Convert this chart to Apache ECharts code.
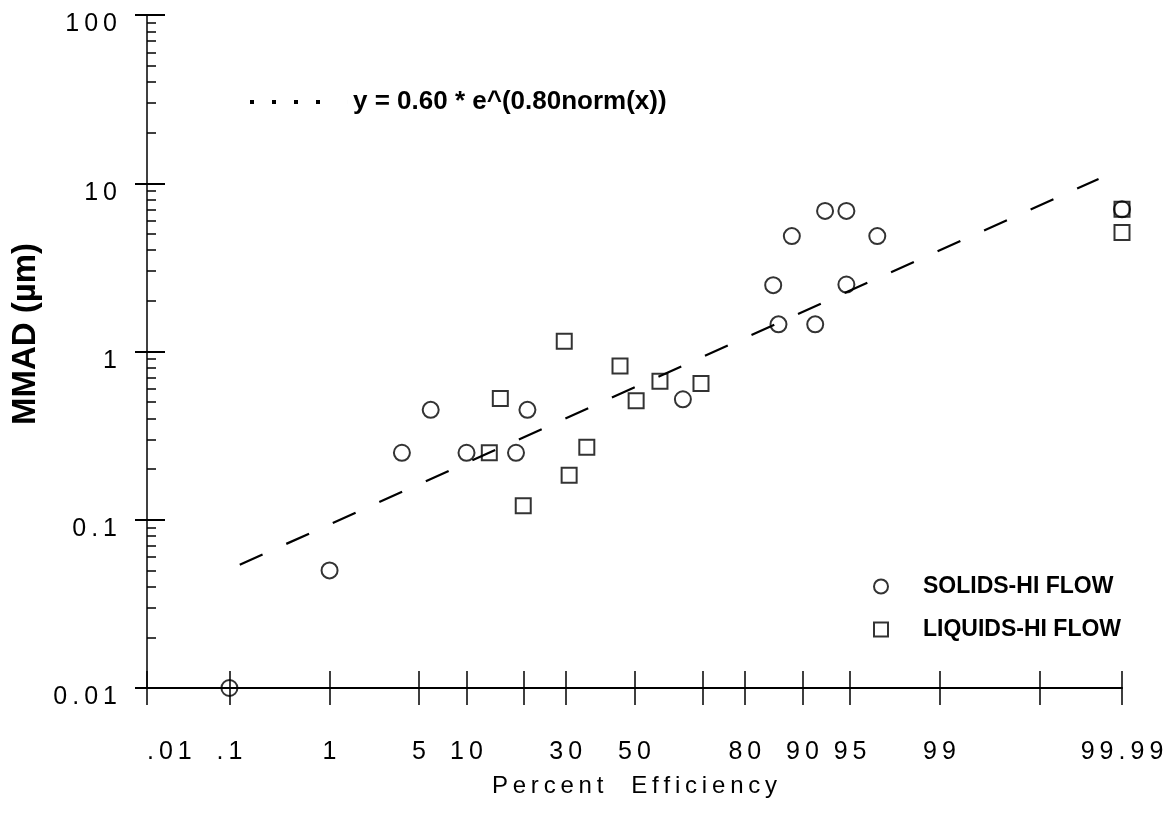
<!DOCTYPE html>
<html>
<head>
<meta charset="utf-8">
<script src="https://cdn.jsdelivr.net/npm/echarts@6/dist/echarts.min.js"></script>
<style>
html,body{margin:0;padding:0;background:#fff;}
#chart{width:1176px;height:835px;}
</style>
</head>
<body>
<div id="chart"></div>
<script>
// ---- data (percent efficiency, MMAD in micrometres) ----
const solidsName = 'SOLIDS-HI FLOW';
const solidsPct  = [0.1, 1.0, 3.8, 6.0, 10.0, 18.3, 20.7, 64.4, 85.5, 86.4, 88.5, 91.6, 92.7, 94.7, 94.7, 96.8, 99.99];
const solidsMMAD = [0.01, 0.05, 0.25, 0.45, 0.25, 0.25, 0.45, 0.52, 2.48, 1.45, 4.85, 1.45, 6.85, 6.85, 2.5, 4.85, 7.0];

const liquidsName = 'LIQUIDS-HI FLOW';
const liquidsPct  = [13.4, 15.3, 19.8, 29.6, 30.9, 35.8, 45.6, 50.5, 57.7, 69.4, 99.99, 99.99];
const liquidsMMAD = [0.25, 0.525, 0.121, 1.15, 0.184, 0.27, 0.82, 0.51, 0.665, 0.645, 7.0, 5.1];

const fitName = 'y = 0.60 * e^(0.80norm(x))';
const fitPct  = [0.13, 99.98];
const fitMMAD = [0.054, 10.6];

// ---- axis ticks / labels ----
const xTickValues  = [0.01, 0.1, 1, 5, 10, 20, 30, 50, 70, 80, 90, 95, 99, 99.9, 99.99];
const xLabelValues = [0.01, 0.1, 1, 5, 10, 30, 50, 80, 90, 95, 99, 99.99];
const xTickLabels  = ['.01', '.1', '1', '5', '10', '30', '50', '80', '90', '95', '99', '99.99'];
const yMajorValues = [0.01, 0.1, 1, 10, 100];
const yTickLabels  = ['0.01', '0.1', '1', '10', '100'];
const yMinorMantissas = [2, 3, 4, 5, 6, 7, 8, 9];
const xAxisName = 'Percent  Efficiency';
const yAxisName = 'MMAD (\u00B5m)';

// ---- normal probability scale (inverse normal CDF) ----
function probit(p) {
  const a = [-3.969683028665376e+01, 2.209460984245205e+02, -2.759285104469687e+02, 1.383577518672690e+02, -3.066479806614716e+01, 2.506628277459239e+00];
  const b = [-5.447609879822406e+01, 1.615858368580409e+02, -1.556989798598866e+02, 6.680131188771972e+01, -1.328068155288572e+01];
  const c = [-7.784894002430293e-03, -3.223964580411365e-01, -2.400758277161838e+00, -2.549732539343734e+00, 4.374664141464968e+00, 2.938163982698783e+00];
  const d = [7.784695709041462e-03, 3.224671290700398e-01, 2.445134137142996e+00, 3.754408661907416e+00];
  const pl = 0.02425, ph = 1 - pl;
  let q, r;
  if (p < pl) {
    q = Math.sqrt(-2 * Math.log(p));
    return (((((c[0]*q+c[1])*q+c[2])*q+c[3])*q+c[4])*q+c[5]) / ((((d[0]*q+d[1])*q+d[2])*q+d[3])*q+1);
  }
  if (p <= ph) {
    q = p - 0.5; r = q * q;
    return (((((a[0]*r+a[1])*r+a[2])*r+a[3])*r+a[4])*r+a[5])*q / (((((b[0]*r+b[1])*r+b[2])*r+b[3])*r+b[4])*r+1);
  }
  q = Math.sqrt(-2 * Math.log(1 - p));
  return -(((((c[0]*q+c[1])*q+c[2])*q+c[3])*q+c[4])*q+c[5]) / ((((d[0]*q+d[1])*q+d[2])*q+d[3])*q+1);
}
const z = pct => probit(pct / 100);

const spaced = (s, gap) => s.split('').join(gap);
const FONT = '"Liberation Sans", Arial, Helvetica, sans-serif';

const xMin = z(0.01), xMax = z(99.99);
const yMinorValues = [];
[0.01, 0.1, 1, 10].forEach(dec => yMinorMantissas.forEach(m => yMinorValues.push(+(dec * m).toPrecision(3))));

function fmtX(v) {
  for (let i = 0; i < xLabelValues.length; i++) {
    if (Math.abs(z(xLabelValues[i]) - v) < 1e-6) return spaced(xTickLabels[i], '\u2009');
  }
  return '';
}
function fmtY(v) {
  const i = Math.round(Math.log10(v)) + 2;
  return spaced(yTickLabels[i] || '', '\u2009');
}

const dotsIcon = 'path://M0,0h4v4h-4z M22,0h4v4h-4z M44,0h4v4h-4z M66,0h4v4h-4z M97.99,0h0.01v4h-0.01z';

const chart = echarts.init(document.getElementById('chart'), null, {renderer: 'canvas'});
const option = {
  backgroundColor: '#ffffff',
  animation: false,
  textStyle: {fontFamily: FONT, color: '#000'},
  grid: {left: 147, right: 54, top: 15, bottom: 147, containLabel: false},
  legend: [
    {
      data: [{name: fitName, icon: dotsIcon}],
      left: 250, top: 89, padding: 0,
      itemWidth: 98, itemHeight: 4,
      itemStyle: {color: '#000', borderWidth: 0},
      textStyle: {fontFamily: FONT, fontSize: 26, fontWeight: 'bold', color: '#000'},
      selectedMode: false
    },
    {
      data: [solidsName, liquidsName],
      orient: 'vertical',
      left: 873, top: 575, padding: 0,
      itemWidth: 14, itemHeight: 14, itemGap: 20,
      itemStyle: {color: 'rgba(255,255,255,0)', borderColor: '#000', borderWidth: 2},
      textStyle: {fontFamily: FONT, fontSize: 23, fontWeight: 'bold', color: '#000', padding: [0, 0, 0, 30]},
      selectedMode: false
    }
  ],
  xAxis: [
    {
      type: 'value', min: xMin, max: xMax, position: 'bottom',
      axisLine: {show: true, onZero: false, lineStyle: {color: '#000', width: 2}},
      axisTick: {show: true, inside: false, length: 17, customValues: xTickValues.map(z), lineStyle: {color: '#000', width: 1.5}},
      axisLabel: {show: true, customValues: xLabelValues.map(z), formatter: fmtX, margin: 52, fontSize: 25, color: '#000', fontFamily: FONT, alignMinLabel: 'left'},
      splitLine: {show: false},
      name: spaced(xAxisName, '\u2009'), nameLocation: 'middle', nameGap: 86,
      nameTextStyle: {fontSize: 24, color: '#000', fontFamily: FONT}
    },
    {
      type: 'value', min: xMin, max: xMax, position: 'bottom',
      axisLine: {show: false, onZero: false},
      axisTick: {show: true, inside: true, length: 17, customValues: xTickValues.map(z), lineStyle: {color: '#000', width: 1.5}},
      axisLabel: {show: false},
      splitLine: {show: false}
    }
  ],
  yAxis: [
    {
      type: 'log', logBase: 10, min: 0.01, max: 100, position: 'left',
      axisLine: {show: true, onZero: false, lineStyle: {color: '#000', width: 1.5}},
      axisTick: {show: true, inside: false, length: 12, customValues: yMajorValues, lineStyle: {color: '#000', width: 2}},
      axisLabel: {show: true, customValues: yMajorValues, formatter: fmtY, margin: 30, fontSize: 25, color: '#000', fontFamily: FONT, verticalAlign: 'top', lineHeight: 19},
      splitLine: {show: false},
      name: yAxisName, nameLocation: 'middle', nameGap: 100,
      nameTextStyle: {fontSize: 33, fontWeight: 'bold', color: '#000', fontFamily: FONT, padding: [0, 0, 0, 35]}
    },
    {
      type: 'log', logBase: 10, min: 0.01, max: 100, position: 'left',
      axisLine: {show: false, onZero: false},
      axisTick: {show: true, inside: true, length: 18, customValues: yMajorValues, lineStyle: {color: '#000', width: 2}},
      axisLabel: {show: false},
      splitLine: {show: false}
    },
    {
      type: 'log', logBase: 10, min: 0.01, max: 100, position: 'left',
      axisLine: {show: false, onZero: false},
      axisTick: {show: true, inside: true, length: 9, customValues: yMinorValues, lineStyle: {color: '#000', width: 1.5}},
      axisLabel: {show: false},
      splitLine: {show: false}
    }
  ],
  series: [
    {
      name: fitName, type: 'line', xAxisIndex: 0, yAxisIndex: 0,
      data: fitPct.map((p, i) => [z(p), fitMMAD[i]]),
      symbol: 'none', color: '#000',
      lineStyle: {color: '#000', width: 2.2, type: [25, 26]},
      z: 2, clip: false
    },
    {
      name: solidsName, type: 'scatter', xAxisIndex: 0, yAxisIndex: 0,
      data: solidsPct.map((p, i) => [z(p), solidsMMAD[i]]),
      symbol: 'circle', symbolSize: 16,
      itemStyle: {color: 'rgba(255,255,255,0)', borderColor: '#000', borderWidth: 2},
      z: 3, clip: false
    },
    {
      name: liquidsName, type: 'scatter', xAxisIndex: 0, yAxisIndex: 0,
      data: liquidsPct.map((p, i) => [z(p), liquidsMMAD[i]]),
      symbol: 'rect', symbolSize: 15,
      itemStyle: {color: 'rgba(255,255,255,0)', borderColor: '#000', borderWidth: 2},
      z: 3, clip: false
    }
  ]
};
chart.setOption(option);
</script>
</body>
</html>
